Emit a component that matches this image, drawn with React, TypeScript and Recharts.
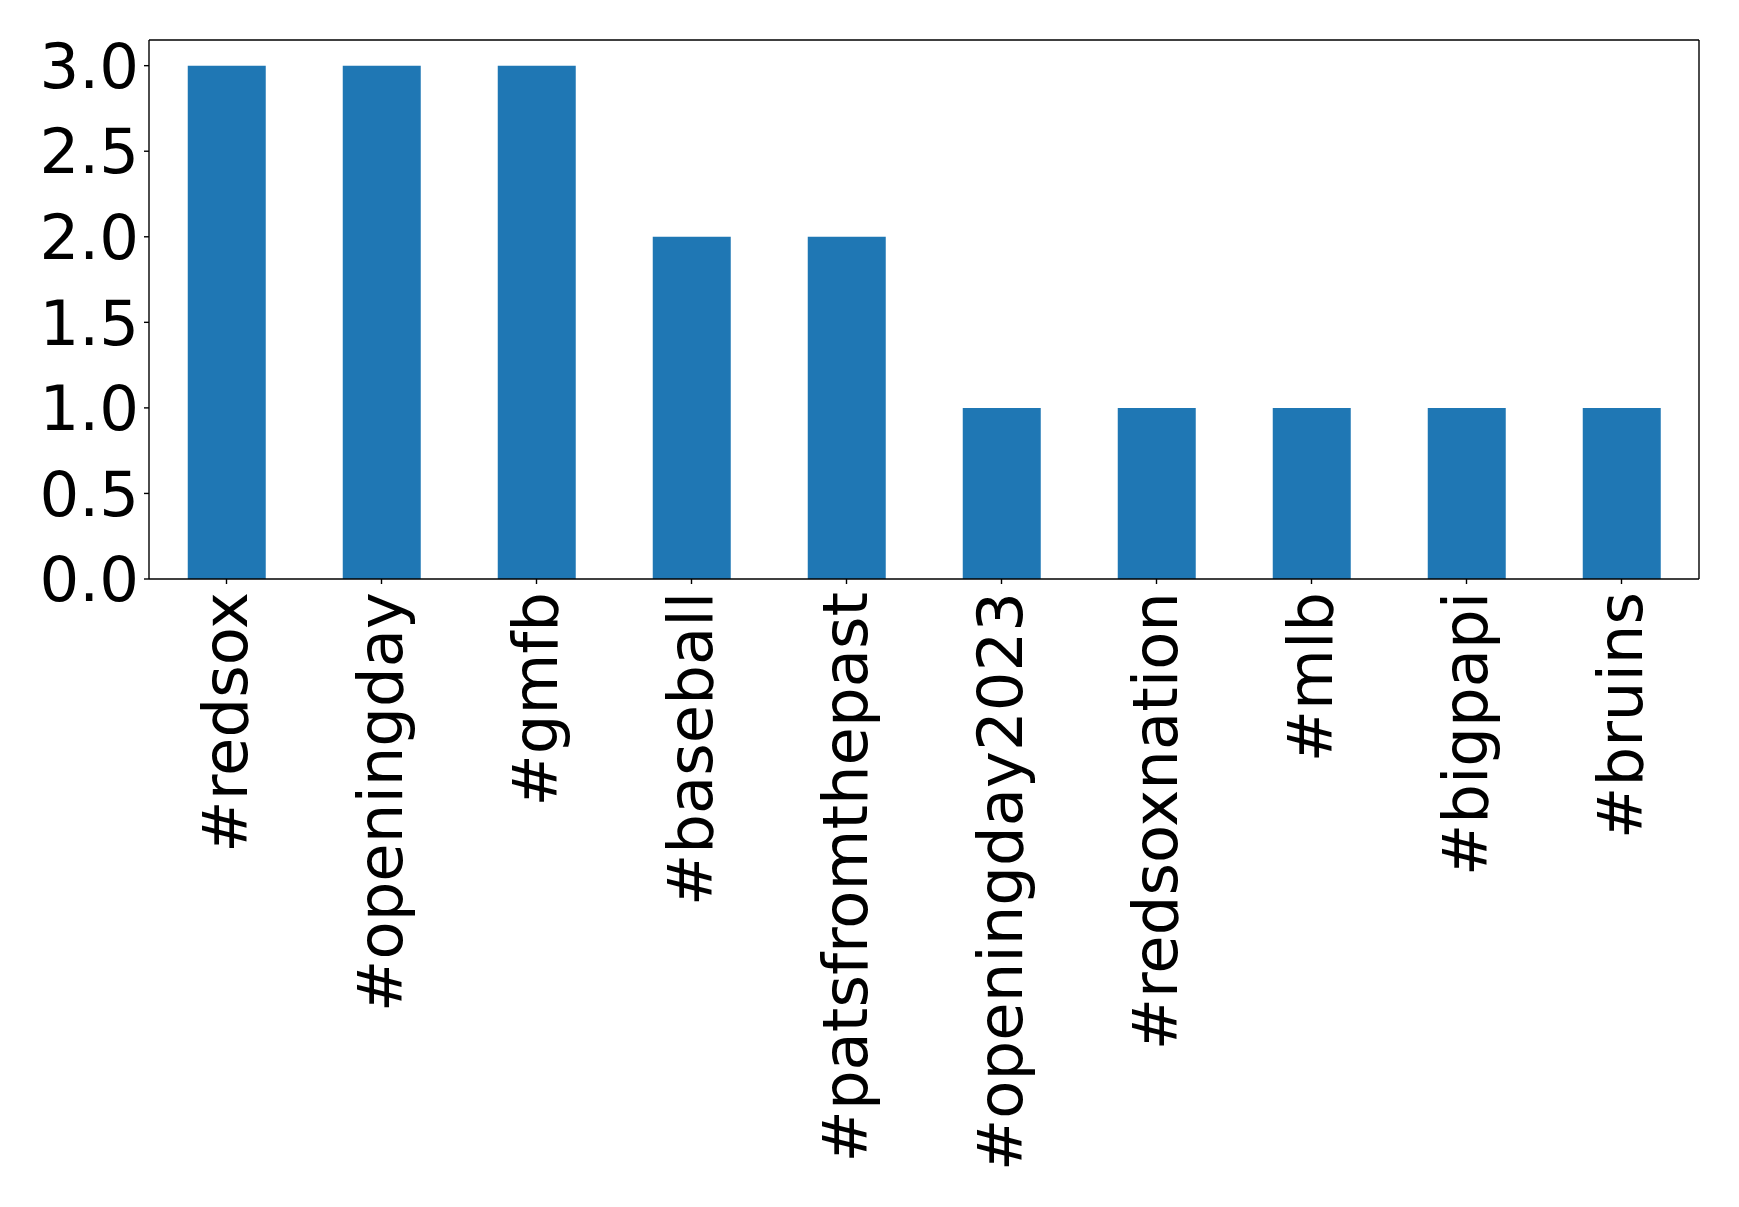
import React from "react";
import { BarChart, Bar, XAxis, YAxis } from "recharts";

const categories = ["#redsox", "#openingday", "#gmfb", "#baseball", "#patsfromthepast", "#openingday2023", "#redsoxnation", "#mlb", "#bigpapi", "#bruins"];
const counts = [3, 3, 3, 2, 2, 1, 1, 1, 1, 1];
const yTicks = [0, 0.5, 1.0, 1.5, 2.0, 2.5, 3.0];

const data = categories.map((c, i) => ({ name: c, value: counts[i] }));

const FONT = "DejaVu Sans";
const FS = 62.5;
const LW = 1.4;

const XTick = (props: any) => {
  const { x, y, payload } = props;
  const yy = y + 3;
  return (
    <text
      x={x}
      y={yy}
      dy={FS * 0.33}
      transform={`rotate(-90, ${x}, ${yy})`}
      textAnchor="end"
      fontFamily={FONT}
      fontSize={FS}
      fill="#000"
    >
      {payload.value}
    </text>
  );
};

export default function App() {
  return (
    <div style={{ position: "absolute", left: 0, top: 0, width: 1739, height: 1207, background: "#fff" }}>
      <BarChart
        width={1739}
        height={1207}
        data={data}
        margin={{ top: 39, right: 39, left: 0, bottom: 0 }}
        barCategoryGap="25%"
      >
        <XAxis
          dataKey="name"
          height={628}
          interval={0}
          tickSize={5}
          tickMargin={5}
          tick={<XTick />}
          stroke="#000"
          strokeWidth={LW}
          axisLine={{ stroke: "#000", strokeWidth: LW }}
          tickLine={{ stroke: "#000", strokeWidth: LW }}
        />
        <XAxis
          xAxisId="top"
          orientation="top"
          dataKey="name"
          height={1}
          tick={false}
          tickLine={false}
          stroke="#000"
          strokeWidth={LW}
          axisLine={{ stroke: "#000", strokeWidth: LW }}
        />
        <YAxis
          width={149}
          domain={[0, 3.15]}
          ticks={yTicks}
          interval={0}
          tickSize={5}
          tickMargin={5}
          tickFormatter={(v: number) => v.toFixed(1)}
          tick={{ fontFamily: FONT, fontSize: FS, fill: "#000" }}
          stroke="#000"
          strokeWidth={LW}
          axisLine={{ stroke: "#000", strokeWidth: LW }}
          tickLine={{ stroke: "#000", strokeWidth: LW }}
        />
        <YAxis
          yAxisId="right"
          orientation="right"
          width={1}
          domain={[0, 3.15]}
          tick={false}
          tickLine={false}
          stroke="#000"
          strokeWidth={LW}
          axisLine={{ stroke: "#000", strokeWidth: LW }}
        />
        <Bar dataKey="value" fill="#1f77b4" isAnimationActive={false} />
      </BarChart>
    </div>
  );
}
